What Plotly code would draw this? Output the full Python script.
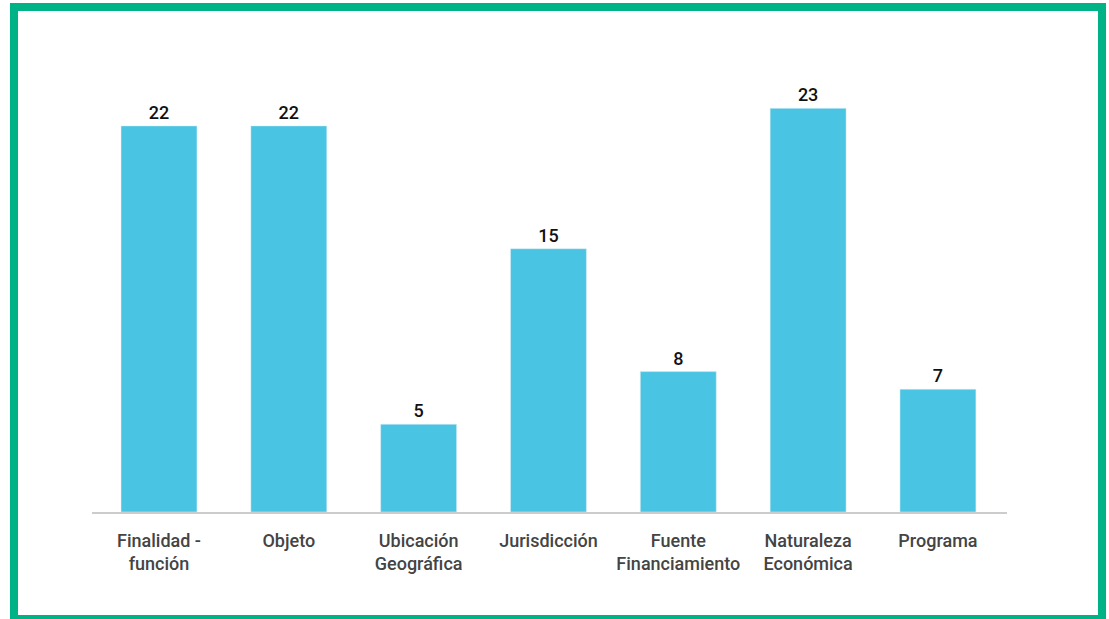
import plotly.graph_objects as go

categories = ["Finalidad -<br>función", "Objeto", "Ubicación<br>Geográfica", "Jurisdicción",
              "Fuente<br>Financiamiento", "Naturaleza<br>Económica", "Programa"]
values = [22, 22, 5, 15, 8, 23, 7]

W, H = 1109, 619
ml, mr, mt, mb = 92, 102, 60, 107
pw, ph = W - ml - mr, H - mt - mb

def px_x(p):
    return (p - ml) / pw

def px_y(p):
    return (H - mb - p) / ph

fig = go.Figure(go.Bar(
    x=categories, y=values,
    marker_color="#49C5E3",
    text=values, textposition="outside",
    textfont=dict(family="Roboto", size=18, color="#111111", weight=500),
    cliponaxis=False,
))

fig.update_layout(
    width=W, height=H,
    margin=dict(l=ml, r=mr, t=mt, b=mb),
    paper_bgcolor="white", plot_bgcolor="white",
    bargap=0.415,
    showlegend=False,
    font=dict(family="Roboto", size=18, color="#444444"),
    xaxis=dict(showline=True, linecolor="#cccccc", linewidth=2, ticks="",
               range=[-0.516, len(categories) - 0.468],
               ticklabelstandoff=11,
               tickfont=dict(family="Roboto", size=18, color="#444444", weight=500)),
    yaxis=dict(visible=False, range=[0, ph / 17.55]),
    shapes=[dict(type="rect", xref="paper", yref="paper",
                 x0=px_x(14), x1=px_x(1102), y0=px_y(619), y1=px_y(7),
                 line=dict(color="#00B386", width=8), layer="above")],
)

fig.write_html("out.html", config={"displayModeBar": False},
               post_script="document.body.style.margin='0';document.body.style.overflow='hidden';")
